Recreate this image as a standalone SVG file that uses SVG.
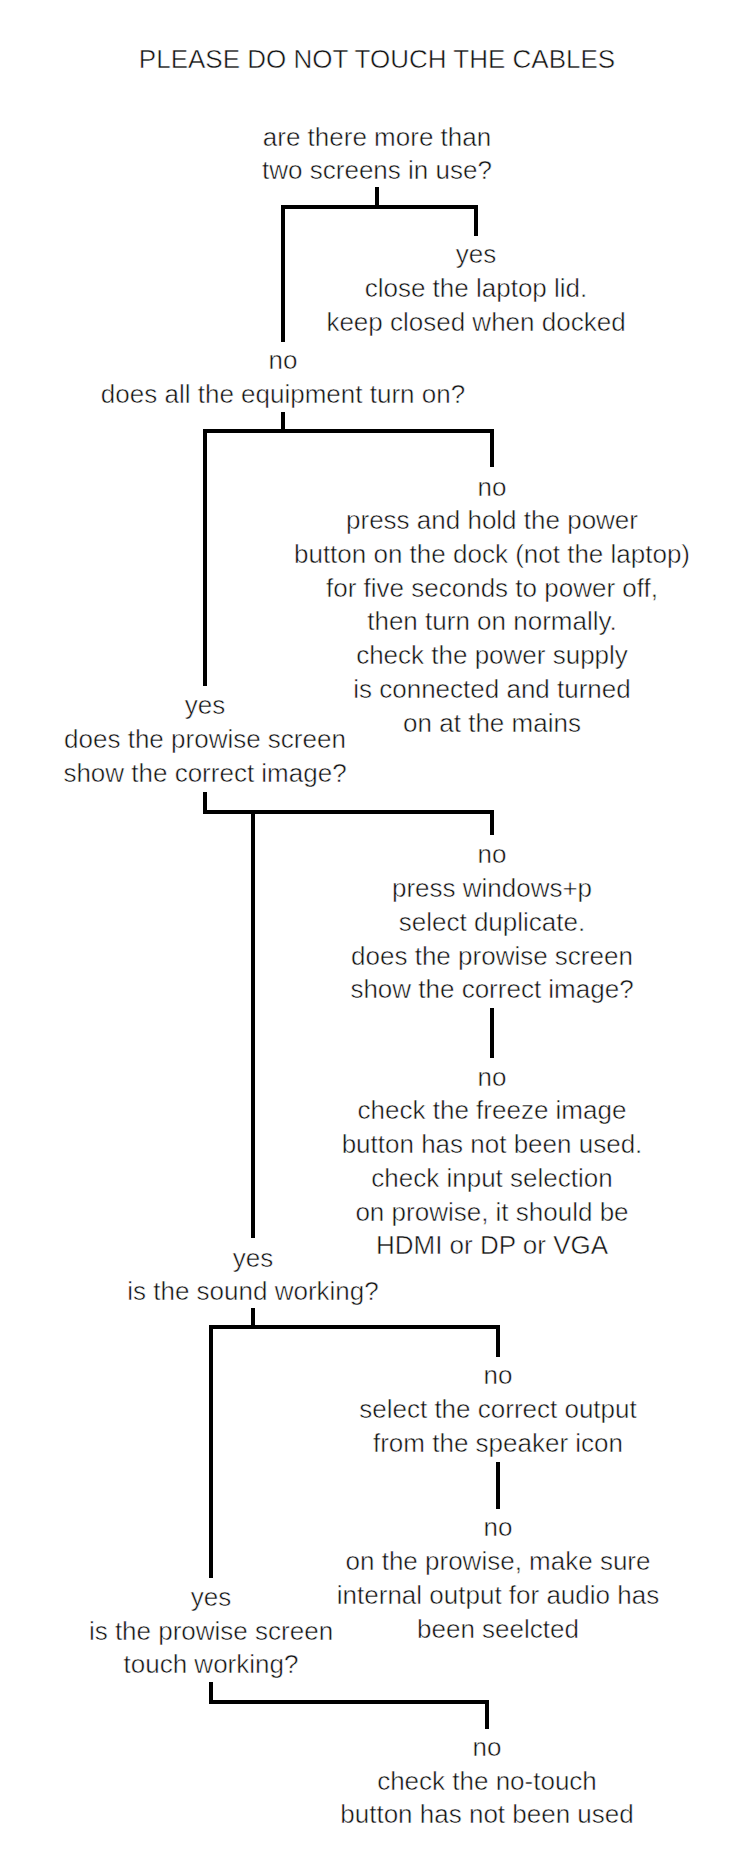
<svg xmlns="http://www.w3.org/2000/svg" width="754" height="1874" viewBox="0 0 754 1874">
<style>
text{font-family:"Liberation Sans",Arial,sans-serif;font-size:26px;fill:#111;stroke:#fff;stroke-width:0.5px;paint-order:fill stroke;text-anchor:middle}
.title{font-size:26px}
.c{fill:none;stroke:#000;stroke-width:4;stroke-linejoin:miter;stroke-linecap:butt}
</style>
<rect width="754" height="1874" fill="#fff"/>
<g id="title"><text class="title" x="377" y="68">PLEASE DO NOT TOUCH THE CABLES</text></g>
<g id="connectors">
<path class="c" d="M377,187 V207"/>
<path class="c" d="M283,342 V207 H476 V236"/>
<path class="c" d="M283,412 V431"/>
<path class="c" d="M205,686 V431 H492 V467"/>
<path class="c" d="M205,792 V812 H492 V835"/>
<path class="c" d="M253,812 V1238"/>
<path class="c" d="M492,1008 V1058"/>
<path class="c" d="M253,1308 V1327"/>
<path class="c" d="M211,1578 V1327 H498 V1357"/>
<path class="c" d="M498,1462 V1509"/>
<path class="c" d="M211,1682 V1702 H487 V1729"/>
</g>
<g id="q1"><text x="377" y="146">are there more than</text><text x="377" y="179">two screens in use?</text></g>
<g id="a1-yes"><text x="476" y="263">yes</text><text x="476" y="297">close the laptop lid.</text><text x="476" y="331">keep closed when docked</text></g>
<g id="q2"><text x="283" y="369">no</text><text x="283" y="403">does all the equipment turn on?</text></g>
<g id="a2-no"><text x="492" y="496">no</text><text x="492" y="529">press and hold the power</text><text x="492" y="563">button on the dock (not the laptop)</text><text x="492" y="597">for five seconds to power off,</text><text x="492" y="630">then turn on normally.</text><text x="492" y="664">check the power supply</text><text x="492" y="698">is connected and turned</text><text x="492" y="732">on at the mains</text></g>
<g id="q3"><text x="205" y="714">yes</text><text x="205" y="748">does the prowise screen</text><text x="205" y="782">show the correct image?</text></g>
<g id="a3-no"><text x="492" y="863">no</text><text x="492" y="897">press windows+p</text><text x="492" y="931">select duplicate.</text><text x="492" y="965">does the prowise screen</text><text x="492" y="998">show the correct image?</text></g>
<g id="a3-no2"><text x="492" y="1086">no</text><text x="492" y="1119">check the freeze image</text><text x="492" y="1153">button has not been used.</text><text x="492" y="1187">check input selection</text><text x="492" y="1221">on prowise, it should be</text><text x="492" y="1254">HDMI or DP or VGA</text></g>
<g id="q4"><text x="253" y="1267">yes</text><text x="253" y="1300">is the sound working?</text></g>
<g id="a4-no"><text x="498" y="1384">no</text><text x="498" y="1418">select the correct output</text><text x="498" y="1452">from the speaker icon</text></g>
<g id="a4-no2"><text x="498" y="1536">no</text><text x="498" y="1570">on the prowise, make sure</text><text x="498" y="1604">internal output for audio has</text><text x="498" y="1638">been seelcted</text></g>
<g id="q5"><text x="211" y="1606">yes</text><text x="211" y="1640">is the prowise screen</text><text x="211" y="1673">touch working?</text></g>
<g id="a5-no"><text x="487" y="1756">no</text><text x="487" y="1790">check the no-touch</text><text x="487" y="1823">button has not been used</text></g>
</svg>
